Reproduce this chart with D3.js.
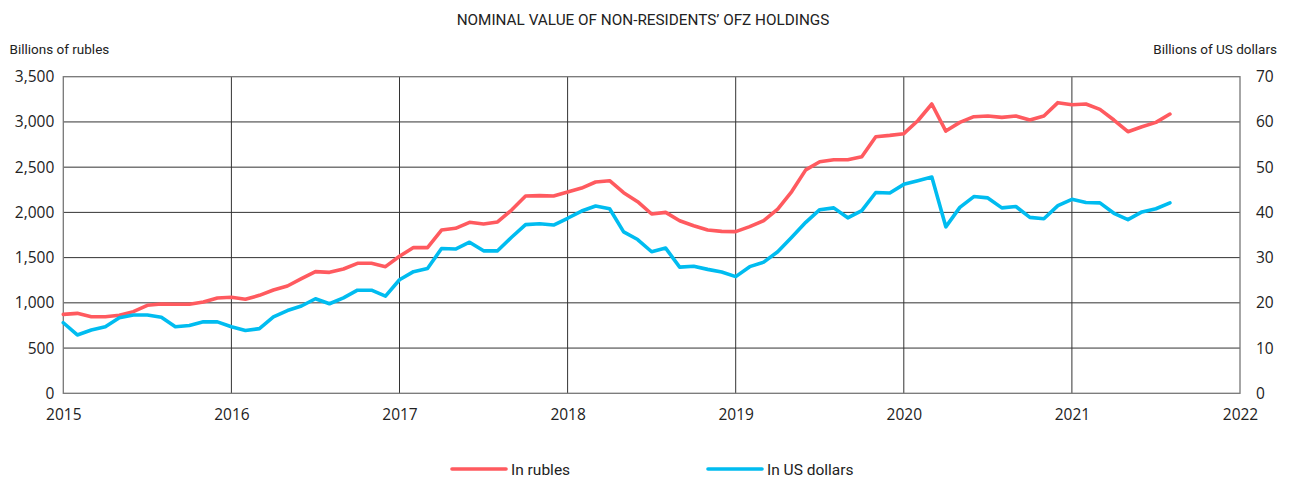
<!DOCTYPE html>
<html>
<head>
<meta charset="utf-8">
<script src="https://cdn.jsdelivr.net/npm/d3@7"></script>
<style>
  body { margin: 0; background: #fff; }
  svg { display: block; }
  .tick-label { font-family: "Open Sans", sans-serif; font-size: 15.5px; fill: #222; }
  .caption { font-family: Roboto, sans-serif; fill: #222; }
</style>
</head>
<body>
<svg id="chart" width="1290" height="479"></svg>
<script>
// monthly values, Jan 2015 .. Aug 2021
const rubles = [
  873, 884, 847, 847, 862, 903, 973, 987, 984, 984, 1009, 1054,
  1061, 1039, 1083, 1142, 1186, 1267, 1345, 1337, 1374, 1437, 1437, 1400,
  1515, 1612, 1610, 1805, 1824, 1890, 1871, 1894, 2026, 2181, 2185, 2181,
  2225, 2269, 2336, 2350, 2218, 2118, 1982, 2000, 1908, 1853, 1805, 1790,
  1787, 1842, 1908, 2037, 2230, 2470, 2560, 2582, 2582, 2616, 2837, 2851,
  2870, 3013, 3198, 2899, 2995, 3058, 3065, 3050, 3065, 3021, 3065, 3213,
  3190, 3198, 3139, 3021, 2892, 2947, 2995, 3087,
];
const usd = [
  15.6, 12.9, 14.0, 14.7, 16.7, 17.3, 17.3, 16.8, 14.7, 15.0, 15.8, 15.8,
  14.7, 13.9, 14.3, 16.9, 18.3, 19.3, 20.9, 19.8, 21.1, 22.8, 22.8, 21.5,
  25.1, 26.9, 27.6, 32.0, 31.9, 33.4, 31.5, 31.5, 34.5, 37.3, 37.5, 37.2,
  38.7, 40.3, 41.4, 40.8, 35.7, 34.0, 31.3, 32.1, 27.9, 28.1, 27.4, 26.8,
  25.8, 28.0, 29.0, 31.3, 34.5, 37.8, 40.6, 41.0, 38.8, 40.4, 44.4, 44.3,
  46.2, 47.0, 47.8, 36.8, 41.1, 43.5, 43.2, 41.0, 41.3, 38.9, 38.6, 41.5,
  42.9, 42.2, 42.1, 39.8, 38.4, 40.1, 40.8, 42.1,
];
const months = d3.timeMonths(new Date(2015, 0, 1), new Date(2021, 8, 1));
const years = d3.range(2015, 2023);
const leftTicks = [0, 500, 1000, 1500, 2000, 2500, 3000, 3500];
const rightTicks = [0, 10, 20, 30, 40, 50, 60, 70];

const title = 'NOMINAL VALUE OF NON-RESIDENTS’ OFZ HOLDINGS';
const leftLabel = 'Billions of rubles';
const rightLabel = 'Billions of US dollars';
const series = [
  { name: 'In rubles', values: rubles, axis: 'left', color: '#ff5a5f' },
  { name: 'In US dollars', values: usd, axis: 'right', color: '#00bcf0' },
];

const margin = { top: 76.7, right: 50, bottom: 85.7, left: 63.3 };
const width = 1290, height = 479;

const svg = d3.select('#chart');

const x = d3.scaleLinear().domain([2015, 2022]).range([margin.left, width - margin.right]);
const yLeft = d3.scaleLinear().domain([0, 3500]).range([height - margin.bottom, margin.top]);
const yRight = d3.scaleLinear().domain([0, 70]).range([height - margin.bottom, margin.top]);
const xOf = (d) => d.getFullYear() + d.getMonth() / 12;

// grid
const grid = svg.append('g').attr('class', 'grid');
grid.selectAll('.h')
  .data(leftTicks.slice(1, -1))
  .join('line')
  .attr('x1', x(2015)).attr('x2', x(2022))
  .attr('y1', (d) => yLeft(d)).attr('y2', (d) => yLeft(d))
  .attr('stroke', '#333').attr('stroke-width', 1);
grid.selectAll('.v')
  .data(years.slice(1, -1))
  .join('line')
  .attr('x1', (d) => x(d)).attr('x2', (d) => x(d))
  .attr('y1', yLeft(0)).attr('y2', yLeft(3500))
  .attr('stroke', '#333').attr('stroke-width', 1);
grid.append('rect')
  .attr('x', x(2015)).attr('y', yLeft(3500))
  .attr('width', x(2022) - x(2015)).attr('height', yLeft(0) - yLeft(3500))
  .attr('fill', 'none').attr('stroke', '#777').attr('stroke-width', 1.3);

// axes
const axisLeft = d3.axisLeft(yLeft).tickValues(leftTicks).tickSize(0).tickPadding(9).tickFormat(d3.format(','));
const axisRight = d3.axisRight(yRight).tickValues(rightTicks).tickSize(0).tickPadding(16);
const axisBottom = d3.axisBottom(x).tickValues(years).tickSize(0).tickPadding(16).tickFormat(d3.format('d'));

[
  svg.append('g').attr('transform', `translate(${margin.left},0)`).call(axisLeft),
  svg.append('g').attr('transform', `translate(${x(2022)},0)`).call(axisRight),
  svg.append('g').attr('transform', `translate(0,${yLeft(0)})`).call(axisBottom),
].forEach((g) => {
  g.select('.domain').remove();
  g.selectAll('.tick text').attr('class', 'tick-label').attr('fill', null);
  g.attr('font-family', null).attr('font-size', null);
});

// lines
series.forEach((s) => {
  const y = s.axis === 'left' ? yLeft : yRight;
  const line = d3.line().x((d, i) => x(xOf(months[i]))).y((d) => y(d));
  svg.append('path')
    .datum(s.values)
    .attr('d', line)
    .attr('fill', 'none')
    .attr('stroke', s.color)
    .attr('stroke-width', 3.6)
    .attr('stroke-linejoin', 'round')
    .attr('stroke-linecap', 'round');
});

// texts
svg.append('text').attr('class', 'caption')
  .attr('x', 643).attr('y', 25).attr('text-anchor', 'middle')
  .attr('font-size', 15.3).text(title);
svg.append('text').attr('class', 'caption')
  .attr('x', 9.5).attr('y', 54).attr('font-size', 13.5).text(leftLabel);
svg.append('text').attr('class', 'caption')
  .attr('x', 1277).attr('y', 54).attr('text-anchor', 'end')
  .attr('font-size', 13.5).text(rightLabel);

// legend
const legend = svg.append('g').attr('transform', 'translate(0,469)');
const legendX = [452, 708];
const items = legend.selectAll('g')
  .data(series)
  .join('g')
  .attr('transform', (d, i) => `translate(${legendX[i]},0)`);
items.append('line')
  .attr('x1', 0).attr('x2', 54)
  .attr('stroke', (d) => d.color).attr('stroke-width', 3.6)
  .attr('stroke-linecap', 'round');
items.append('text').attr('class', 'caption')
  .attr('x', 59).attr('y', 5.5).attr('font-size', 15.5)
  .text((d) => d.name);
</script>
</body>
</html>
